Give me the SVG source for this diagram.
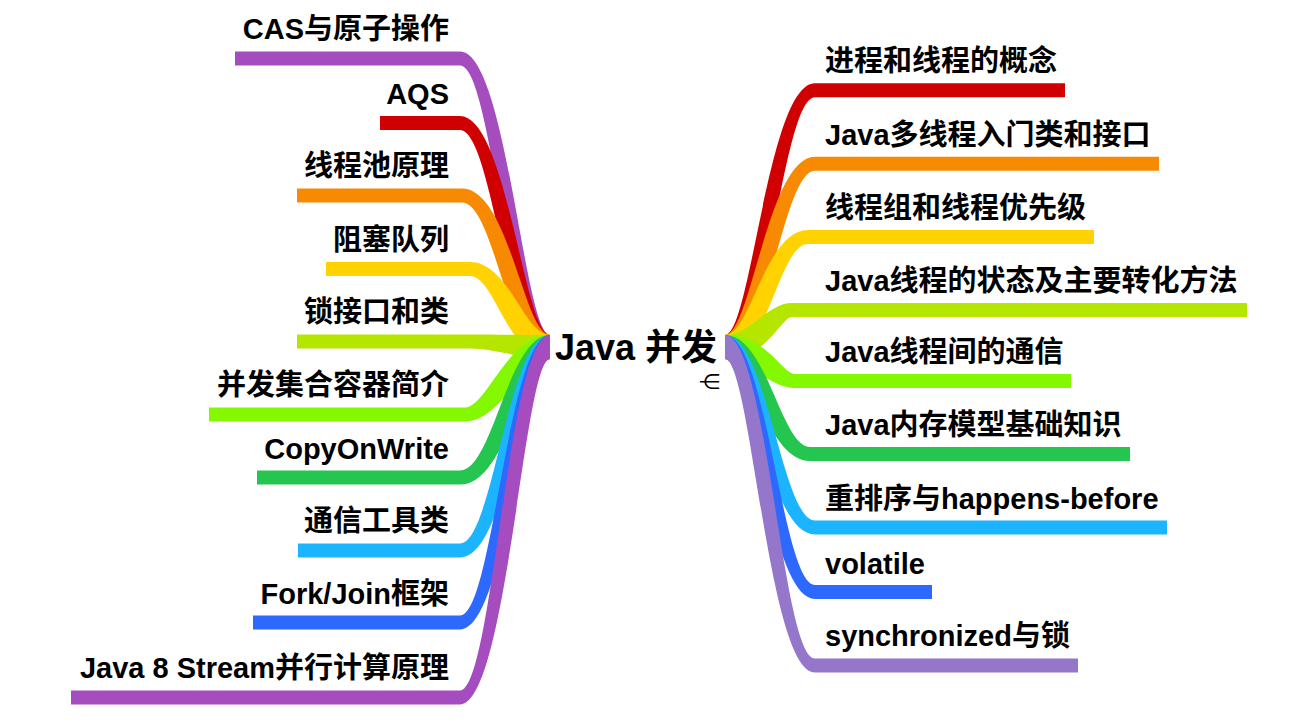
<svg xmlns="http://www.w3.org/2000/svg" width="1300" height="728" viewBox="0 0 1300 728">
<style>
.t{font-family:"Liberation Sans","Noto Sans CJK SC",sans-serif;font-weight:bold;font-size:29px;fill:#000}
.l{text-anchor:end}
.root{font-family:"Liberation Sans","Noto Sans CJK SC",sans-serif;font-weight:bold;font-size:36px;fill:#000}
.ic{font-family:"DejaVu Sans",sans-serif;font-size:21px;fill:#000;text-anchor:end}
.pu{fill:#A54CBE}.rd{fill:#D00000}.or{fill:#F78A00}.ye{fill:#FFD200}.li{fill:#B4E600}
.bg{fill:#84F800}.gr{fill:#24C650}.cy{fill:#1CB3FF}.bl{fill:#2D69FF}.la{fill:#9477CB}
</style>
<rect width="1300" height="728" fill="#fff"/>
<g id="connectors">
<path class="pu" d="M235,51.5 H460 C507,51.5 524,335 550,335 L550,359 C508,359 493,65.5 460,65.5 H235 Z"/>
<path class="rd" d="M380,116 H460 C507,116 524,335 550,335 L550,359 C508,359 493,130 460,130 H380 Z"/>
<path class="or" d="M297,188.5 H462 C509,188.5 524,335 550,335 L550,359 C508,359 495,202.5 462,202.5 H297 Z"/>
<path class="ye" d="M326,262 H470 C509,262 524,335 550,335 L550,359 C508,359 495,276 470,276 H326 Z"/>
<path class="li" d="M297,334.5 H470 C495,334.5 520,335 550,335 L550,359 C520,359 495,348.5 470,348.5 H297 Z"/>
<path class="bg" d="M209,407.5 H465 C486,407.5 508,335 550,335 L550,359 C524,359 500,421.5 465,421.5 H209 Z"/>
<path class="gr" d="M257,470.5 H460 C493,470.5 508,335 550,335 L550,359 C524,359 507,484.5 460,484.5 H257 Z"/>
<path class="cy" d="M298,543.5 H460 C493,543.5 508,335 550,335 L550,359 C524,359 507,557.5 460,557.5 H298 Z"/>
<path class="bl" d="M253,615.5 H460 C493,615.5 508,335 550,335 L550,359 C524,359 507,629.5 460,629.5 H253 Z"/>
<path class="pu" d="M71,690.5 H460 C493,690.5 508,335 550,335 L550,359 C524,359 507,704.5 460,704.5 H71 Z"/>
<path class="rd" d="M1065,83.3 H815 C768,83.3 751,335 725,335 L725,359 C767,359 782,97.3 815,97.3 H1065 Z"/>
<path class="or" d="M1159,156.7 H815 C768,156.7 751,335 725,335 L725,359 C767,359 782,170.7 815,170.7 H1159 Z"/>
<path class="ye" d="M1094,230 H808 C765,230 751,335 725,335 L725,359 C767,359 779,244 808,244 H1094 Z"/>
<path class="li" d="M1247,303 H792 C767,303 751,335 725,335 L725,359 C767,359 781,317 792,317 H1247 Z"/>
<path class="bg" d="M1071,374 H795 C782,374 767,335 725,335 L725,359 C751,359 768,388 795,388 H1071 Z"/>
<path class="gr" d="M1130,447 H810 C781,447 767,335 725,335 L725,359 C751,359 767,461 810,461 H1130 Z"/>
<path class="cy" d="M1167,520.5 H815 C782,520.5 767,335 725,335 L725,359 C751,359 768,534.5 815,534.5 H1167 Z"/>
<path class="bl" d="M932,585 H815 C782,585 767,335 725,335 L725,359 C751,359 768,599 815,599 H932 Z"/>
<path class="la" d="M1078,658.5 H815 C782,658.5 767,335 725,335 L725,359 C751,359 768,672.5 815,672.5 H1078 Z"/>
</g>
<g id="root"><text class="root" x="555" y="360">Java 并发</text><text class="ic" x="720" y="389">⋲</text></g>
<g id="n-cas"><text class="t l" x="449" y="38.5">CAS与原子操作</text></g>
<g id="n-aqs"><text class="t l" x="449" y="104">AQS</text></g>
<g id="n-pool"><text class="t l" x="449" y="176">线程池原理</text></g>
<g id="n-queue"><text class="t l" x="449" y="249.5">阻塞队列</text></g>
<g id="n-lock"><text class="t l" x="449" y="322">锁接口和类</text></g>
<g id="n-coll"><text class="t l" x="449" y="395">并发集合容器简介</text></g>
<g id="n-cow"><text class="t l" x="449" y="459">CopyOnWrite</text></g>
<g id="n-tools"><text class="t l" x="449" y="531">通信工具类</text></g>
<g id="n-fj"><text class="t l" x="449" y="604">Fork/Join框架</text></g>
<g id="n-stream"><text class="t l" x="449" y="678">Java 8 Stream并行计算原理</text></g>
<g id="n-proc"><text class="t" x="825" y="71">进程和线程的概念</text></g>
<g id="n-intro"><text class="t" x="825" y="144.5">Java多线程入门类和接口</text></g>
<g id="n-group"><text class="t" x="825" y="218">线程组和线程优先级</text></g>
<g id="n-state"><text class="t" x="825" y="291">Java线程的状态及主要转化方法</text></g>
<g id="n-comm"><text class="t" x="825" y="362">Java线程间的通信</text></g>
<g id="n-jmm"><text class="t" x="825" y="435">Java内存模型基础知识</text></g>
<g id="n-hb"><text class="t" x="825" y="508.5">重排序与happens-before</text></g>
<g id="n-vol"><text class="t" x="825" y="574">volatile</text></g>
<g id="n-sync"><text class="t" x="825" y="646">synchronized与锁</text></g>
</svg>
